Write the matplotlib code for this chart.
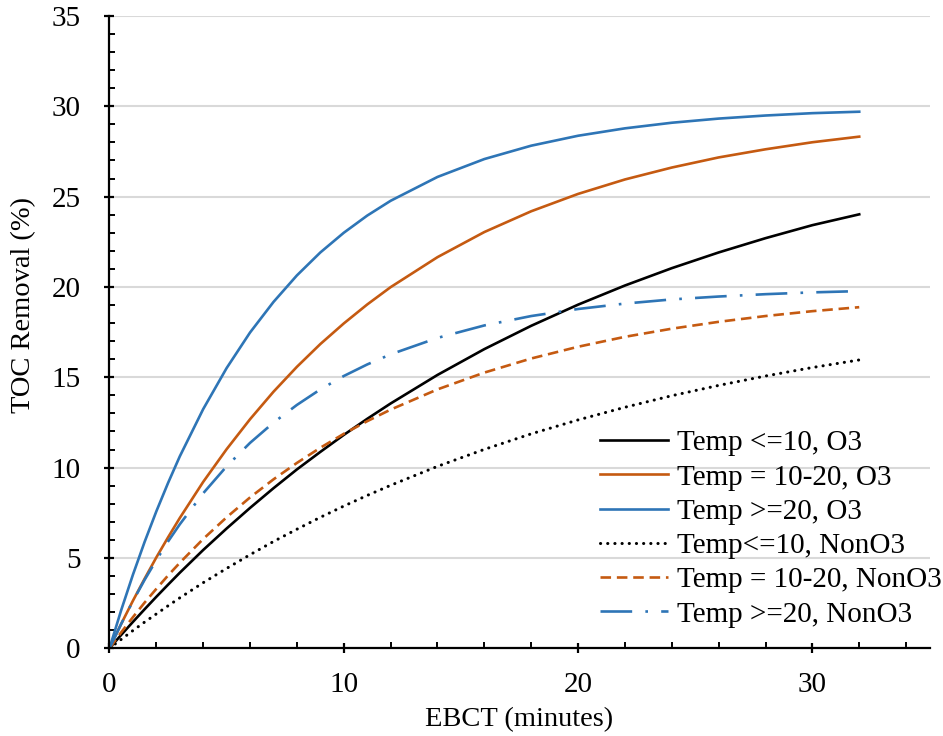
import matplotlib
matplotlib.use("Agg")
import matplotlib.pyplot as plt
from matplotlib.ticker import MultipleLocator

plt.rcParams['font.family'] = ['Liberation Serif', 'DejaVu Serif']

ebct = [0, 0.5, 1, 1.5, 2, 2.5, 3, 4, 5, 6, 7, 8, 9, 10, 11, 12,
        14, 16, 18, 20, 22, 24, 26, 28, 30, 32]

o3_le10 = [0.0, 0.74, 1.46, 2.16, 2.85, 3.52, 4.18, 5.44, 6.63, 7.77, 8.86, 9.90, 10.87, 11.81, 12.70, 13.55,
           15.13, 16.56, 17.85, 19.02, 20.08, 21.04, 21.91, 22.70, 23.42, 24.02]
o3_10_20 = [0.0, 1.35, 2.63, 3.85, 5.03, 6.14, 7.21, 9.21, 11.02, 12.68, 14.20, 15.58, 16.84, 17.98, 19.03, 19.99,
            21.65, 23.04, 24.19, 25.15, 25.95, 26.61, 27.17, 27.62, 28.01, 28.32]
o3_ge20 = [0.0, 2.11, 4.07, 5.89, 7.58, 9.15, 10.62, 13.24, 15.51, 17.48, 19.17, 20.64, 21.91, 23.00, 23.95, 24.77,
           26.09, 27.08, 27.82, 28.37, 28.78, 29.09, 29.32, 29.49, 29.62, 29.70]
non_le10 = [0.0, 0.49, 0.98, 1.45, 1.90, 2.35, 2.79, 3.63, 4.42, 5.18, 5.91, 6.59, 7.25, 7.87, 8.46, 9.02,
            10.07, 11.01, 11.87, 12.64, 13.34, 13.98, 14.55, 15.07, 15.54, 15.96]
non_10_20 = [0.0, 0.88, 1.72, 2.53, 3.29, 4.03, 4.73, 6.05, 7.25, 8.35, 9.35, 10.26, 11.10, 11.87, 12.57, 13.21,
             14.33, 15.26, 16.04, 16.69, 17.24, 17.69, 18.07, 18.39, 18.66, 18.88]
non_ge20 = [0.0, 1.35, 2.61, 3.79, 4.88, 5.91, 6.86, 8.58, 10.07, 11.37, 12.49, 13.47, 14.33, 15.07, 15.71, 16.27,
            17.18, 17.87, 18.39, 18.78, 19.08, 19.31, 19.47, 19.60, 19.70, 19.77]

labels = ["Temp <=10, O3", "Temp = 10-20, O3", "Temp >=20, O3",
          "Temp<=10, NonO3", "Temp = 10-20, NonO3", "Temp >=20, NonO3"]

blue = "#2E75B6"
orange = "#C55A11"

fig = plt.figure(figsize=(9.43, 7.36), dpi=100)
ax = fig.add_axes([0.1161, 0.1192, 0.8696, 0.8591])

lw = 1.9
ax.plot(ebct, o3_le10, color="black", lw=lw, label=labels[0])
ax.plot(ebct, o3_10_20, color=orange, lw=lw, label=labels[1])
ax.plot(ebct, o3_ge20, color=blue, lw=lw, label=labels[2])
ax.plot(ebct, non_le10, color="black", lw=2.2, linestyle=(0, (0.05, 2.3)),
        dash_capstyle='round', label=labels[3])
ax.plot(ebct, non_10_20, color=orange, lw=lw, linestyle=(0, (4, 2.2)), label=labels[4])
ax.plot(ebct, non_ge20, color=blue, lw=lw, linestyle=(0, (12, 5, 1, 5)), label=labels[5])

ax.set_xlim(0, 35)
ax.set_ylim(0, 35)
ax.xaxis.set_major_locator(MultipleLocator(10))
ax.xaxis.set_minor_locator(MultipleLocator(2))
ax.yaxis.set_major_locator(MultipleLocator(5))
ax.yaxis.set_minor_locator(MultipleLocator(1))

ax.grid(axis='y', which='major', color='#d9d9d9', lw=1.5, zorder=0)
ax.set_axisbelow(True)
for s in ['top', 'right']:
    ax.spines[s].set_visible(False)
for s in ['left', 'bottom']:
    ax.spines[s].set_linewidth(1.6)
    ax.spines[s].set_color('black')

ax.tick_params(which='major', direction='inout', length=7.5, width=1.6, labelsize=21, color='black')
ax.tick_params(which='minor', direction='in', length=4, width=1.4, color='black')
ax.tick_params(axis='x', which='major', pad=13)
ax.tick_params(axis='y', which='major', pad=17)

ax.set_xlabel("EBCT (minutes)", fontsize=20.5)
ax.set_ylabel("TOC Removal (%)", fontsize=20.5)
ax.xaxis.set_label_coords(0.5, -0.093)
ax.yaxis.set_label_coords(-0.0896, 0.543)

leg = ax.legend(loc='upper left', bbox_to_anchor=(0.6363, 0.416), bbox_transform=fig.transFigure,
                frameon=False, fontsize=21, handlelength=2.33, handletextpad=0.3,
                labelspacing=0.27, borderpad=0, borderaxespad=0)

fig.savefig("out.png", dpi=100)
